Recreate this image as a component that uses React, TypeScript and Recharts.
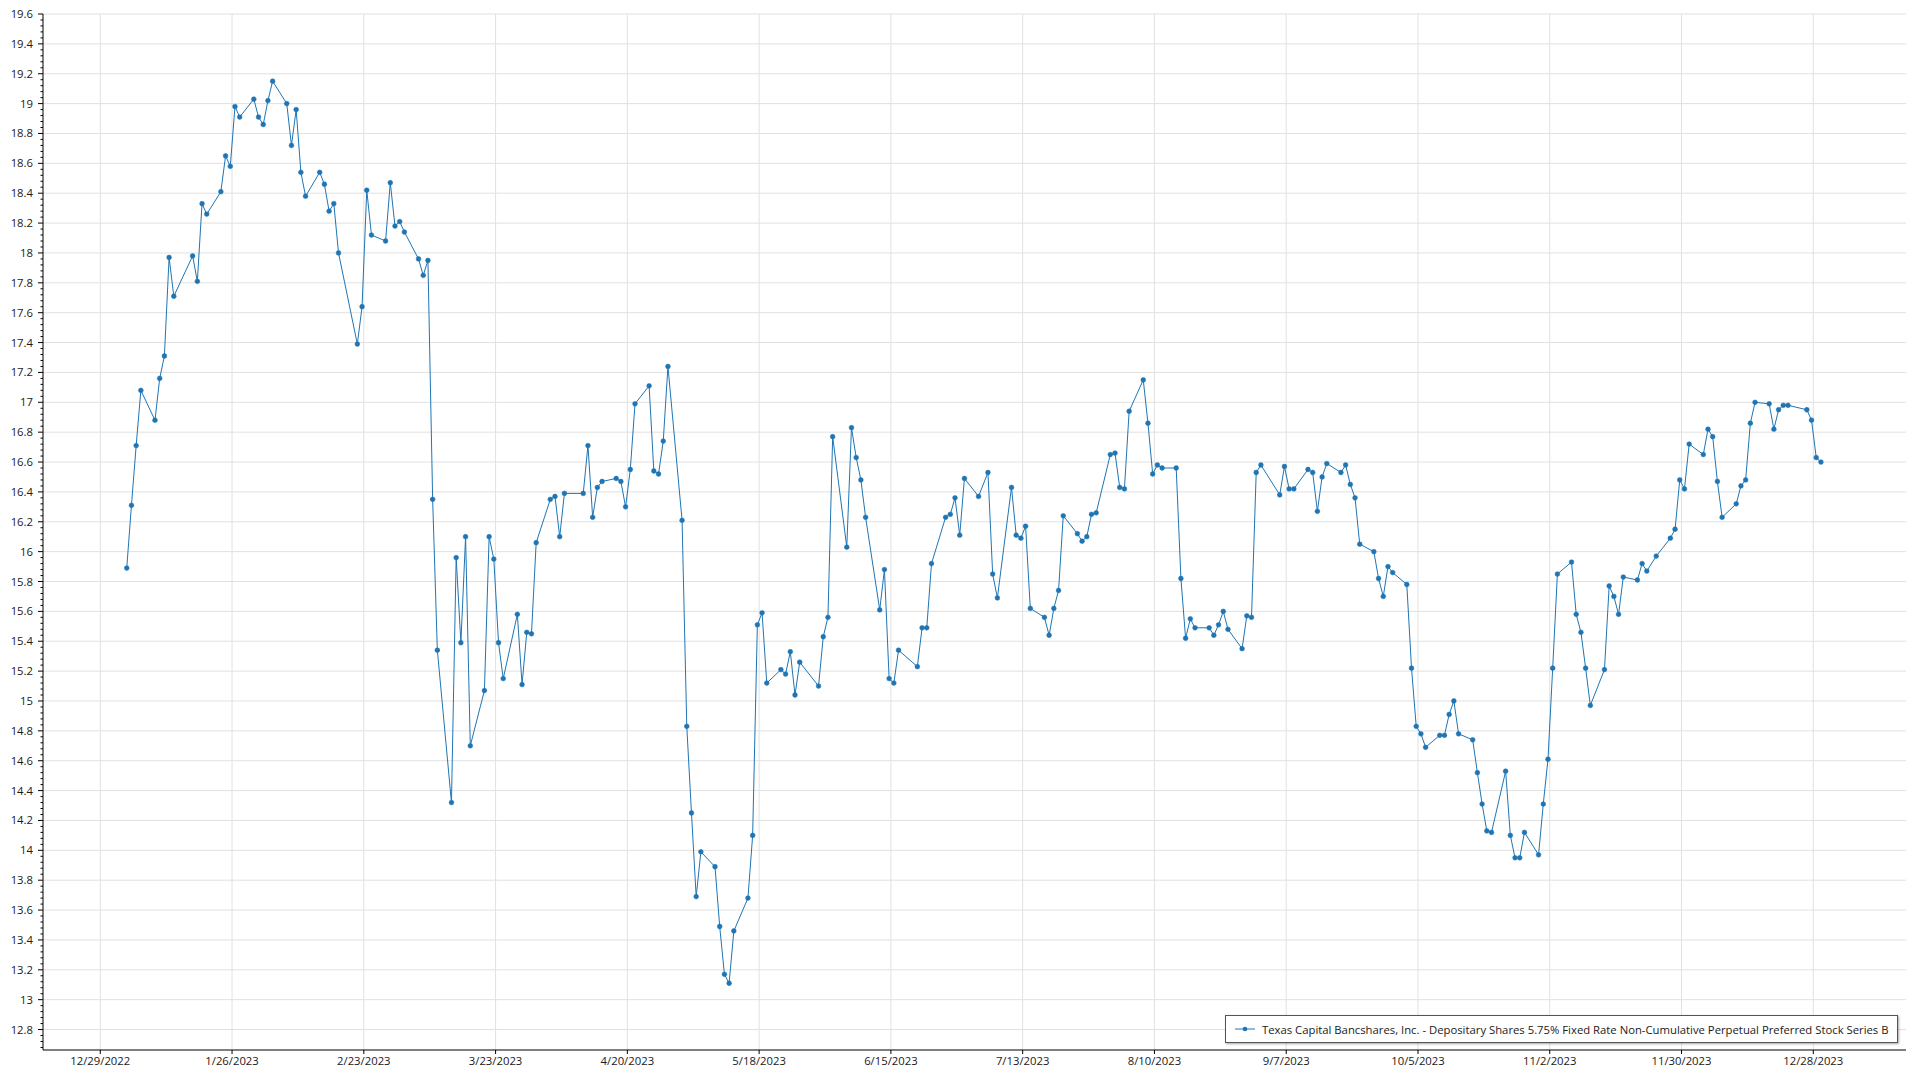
import { LineChart, Line, XAxis, YAxis, CartesianGrid, Legend } from "recharts";

const DAY = 86400000;
const YEAR = 2023;
const FONT = "'Segoe UI', 'Open Sans', 'Noto Sans', sans-serif";
const BLUE = "#1f75b4";

const seriesName =
  "Texas Capital Bancshares, Inc. - Depositary Shares 5.75% Fixed Rate Non-Cumulative Perpetual Preferred Stock Series B";

// trading days of 2023, one row per month (Jan..Dec)
const tradingDaysByMonth: number[][] = [
  [3, 4, 5, 6, 9, 10, 11, 12, 13, 17, 18, 19, 20, 23, 24, 25, 26, 27, 30, 31],
  [1, 2, 3, 6, 7, 8, 9, 10, 13, 14, 15, 16, 17, 21, 22, 23, 24, 27, 28],
  [1, 2, 3, 6, 7, 8, 9, 10, 13, 14, 15, 16, 17, 20, 21, 22, 23, 24, 27, 28, 29, 30, 31],
  [3, 4, 5, 6, 10, 11, 12, 13, 14, 17, 18, 19, 20, 21, 24, 25, 26, 27, 28],
  [1, 2, 3, 4, 5, 8, 9, 10, 11, 12, 15, 16, 17, 18, 19, 22, 23, 24, 25, 26, 30, 31],
  [1, 2, 5, 6, 7, 8, 9, 12, 13, 14, 15, 16, 20, 21, 22, 23, 26, 27, 28, 29, 30],
  [3, 5, 6, 7, 10, 11, 12, 13, 14, 17, 18, 19, 20, 21, 24, 25, 26, 27, 28, 31],
  [1, 2, 3, 4, 7, 8, 9, 10, 11, 14, 15, 16, 17, 18, 21, 22, 23, 24, 25, 28, 29, 30, 31],
  [1, 5, 6, 7, 8, 11, 12, 13, 14, 15, 18, 19, 20, 21, 22, 25, 26, 27, 28, 29],
  [2, 3, 4, 5, 6, 9, 10, 11, 12, 13, 16, 17, 18, 19, 20, 23, 24, 25, 26, 27, 30, 31],
  [1, 2, 3, 6, 7, 8, 9, 10, 13, 14, 15, 16, 17, 20, 21, 22, 24, 27, 28, 29, 30],
  [1, 4, 5, 6, 7, 8, 11, 12, 13, 14, 15, 18, 19, 20, 21, 22, 26, 27, 28, 29],
];

const closesByMonth: number[][] = [
  [15.89, 16.31, 16.71, 17.08, 16.88, 17.16, 17.31, 17.97, 17.71, 17.98, 17.81, 18.33, 18.26, 18.41, 18.65, 18.58, 18.98, 18.91, 19.03, 18.91],
  [18.86, 19.02, 19.15, 19.0, 18.72, 18.96, 18.54, 18.38, 18.54, 18.46, 18.28, 18.33, 18.0, 17.39, 17.64, 18.42, 18.12, 18.08, 18.47],
  [18.18, 18.21, 18.14, 17.96, 17.85, 17.95, 16.35, 15.34, 14.32, 15.96, 15.39, 16.1, 14.7, 15.07, 16.1, 15.95, 15.39, 15.15, 15.58, 15.11, 15.46, 15.45, 16.06],
  [16.35, 16.37, 16.1, 16.39, 16.39, 16.71, 16.23, 16.43, 16.47, 16.49, 16.47, 16.3, 16.55, 16.99, 17.11, 16.54, 16.52, 16.74, 17.24],
  [16.21, 14.83, 14.25, 13.69, 13.99, 13.89, 13.49, 13.17, 13.11, 13.46, 13.68, 14.1, 15.51, 15.59, 15.12, 15.21, 15.18, 15.33, 15.04, 15.26, 15.1, 15.43],
  [15.56, 16.77, 16.03, 16.83, 16.63, 16.48, 16.23, 15.61, 15.88, 15.15, 15.12, 15.34, 15.23, 15.49, 15.49, 15.92, 16.23, 16.25, 16.36, 16.11, 16.49],
  [16.37, 16.53, 15.85, 15.69, 16.43, 16.11, 16.09, 16.17, 15.62, 15.56, 15.44, 15.62, 15.74, 16.24, 16.12, 16.07, 16.1, 16.25, 16.26, 16.65],
  [16.66, 16.43, 16.42, 16.94, 17.15, 16.86, 16.52, 16.58, 16.56, 16.56, 15.82, 15.42, 15.55, 15.49, 15.49, 15.44, 15.51, 15.6, 15.48, 15.35, 15.57, 15.56, 16.53],
  [16.58, 16.38, 16.57, 16.42, 16.42, 16.55, 16.53, 16.27, 16.5, 16.59, 16.53, 16.58, 16.45, 16.36, 16.05, 16.0, 15.82, 15.7, 15.9, 15.86],
  [15.78, 15.22, 14.83, 14.78, 14.69, 14.77, 14.77, 14.91, 15.0, 14.78, 14.74, 14.52, 14.31, 14.13, 14.12, 14.53, 14.1, 13.95, 13.95, 14.12, 13.97, 14.31],
  [14.61, 15.22, 15.85, 15.93, 15.58, 15.46, 15.22, 14.97, 15.21, 15.77, 15.7, 15.58, 15.83, 15.81, 15.92, 15.87, 15.97, 16.09, 16.15, 16.48, 16.42],
  [16.72, 16.65, 16.82, 16.77, 16.47, 16.23, 16.32, 16.44, 16.48, 16.86, 17.0, 16.99, 16.82, 16.95, 16.98, 16.98, 16.95, 16.88, 16.63, 16.6],
];

const xTickLabels = [
  "12/29/2022", "1/26/2023", "2/23/2023", "3/23/2023", "4/20/2023", "5/18/2023", "6/15/2023",
  "7/13/2023", "8/10/2023", "9/7/2023", "10/5/2023", "11/2/2023", "11/30/2023", "12/28/2023",
];

const yTickValues = [
  12.8, 13, 13.2, 13.4, 13.6, 13.8, 14, 14.2, 14.4, 14.6, 14.8, 15, 15.2, 15.4, 15.6, 15.8, 16, 16.2,
  16.4, 16.6, 16.8, 17, 17.2, 17.4, 17.6, 17.8, 18, 18.2, 18.4, 18.6, 18.8, 19, 19.2, 19.4, 19.6,
];

const Y_DOMAIN: [number, number] = [12.663, 19.6];

const parseLabel = (s: string) => {
  const [m, d, y] = s.split("/").map(Number);
  return Date.UTC(y, m - 1, d);
};

// closing prints are stamped mid-afternoon, so they sit a little right of the date gridline
const data = tradingDaysByMonth.flatMap((days, mi) =>
  days.map((d, i) => ({ t: Date.UTC(YEAR, mi, d, 15), close: closesByMonth[mi][i] }))
);

const xTicks = xTickLabels.map(parseLabel);
const xDomain: [number, number] = [xTicks[0] - 12.17 * DAY, xTicks[0] + 383.7 * DAY];

// four minor ticks between every labelled value
const round2 = (v: number) => Math.round(v * 100) / 100;
const yAllTicks = yTickValues
  .flatMap((v) => [v, v - 0.04, v - 0.08, v - 0.12, v - 0.16].map(round2))
  .filter((v) => v >= Y_DOMAIN[0])
  .sort((a, b) => a - b);

const isMajor = (v: number) => yTickValues.some((t) => Math.abs(t - v) < 1e-6);

const fmtDate = (t: number) => {
  const d = new Date(t);
  return `${d.getUTCMonth() + 1}/${d.getUTCDate()}/${d.getUTCFullYear()}`;
};

function YTick(props: any) {
  const { x, y, payload } = props;
  const major = isMajor(payload.value);
  return (
    <g>
      <line x1={x - (major ? 5 : 2.5)} x2={x} y1={y} y2={y} stroke="#000" strokeWidth={1} />
      {major && (
        <text x={x - 10} y={y} dy={4} textAnchor="end" fontSize={11.3} fill="#1a1a1a" fontFamily={FONT}>
          {String(Math.round(payload.value * 10) / 10)}
        </text>
      )}
    </g>
  );
}

function LegendBox() {
  return (
    <div
      style={{
        boxSizing: "border-box",
        width: 673,
        height: 28,
        border: "1px solid #555",
        boxShadow: "1px 1px 2px rgba(0,0,0,0.35)",
        background: "#fff",
        display: "flex",
        alignItems: "center",
        fontFamily: FONT,
        fontSize: 11.3,
        color: "#1a1a1a",
        whiteSpace: "nowrap",
        overflow: "hidden",
      }}
    >
      <svg width={20} height={6} style={{ marginLeft: 9, marginRight: 7, flexShrink: 0 }}>
        <line x1={0} x2={20} y1={3} y2={3} stroke={BLUE} strokeWidth={1} />
        <circle cx={10} cy={3} r={2.3} fill={BLUE} />
      </svg>
      <span>{seriesName}</span>
    </div>
  );
}

export default function App() {
  return (
    <div style={{ position: "absolute", left: 0, top: 0, width: 1920, height: 1080, background: "#fff" }}>
      <LineChart width={1920} height={1080} data={data} margin={{ top: 14, right: 14, bottom: 0, left: 0 }}>
        <CartesianGrid
          stroke="#e1e1e1"
          horizontalValues={yTickValues}
          verticalValues={xTicks}
        />
        <XAxis
          dataKey="t"
          type="number"
          scale="linear"
          domain={xDomain}
          ticks={xTicks}
          interval={0}
          tickFormatter={fmtDate}
          height={30}
          tickSize={4}
          tickMargin={3}
          axisLine={{ stroke: "#000" }}
          tickLine={{ stroke: "#000" }}
          tick={{ fill: "#1a1a1a", fontSize: 11.3, fontFamily: FONT }}
          allowDataOverflow
        />
        <XAxis xAxisId="top" orientation="top" type="number" domain={[0, 1]} height={0} tick={false} axisLine={{ stroke: "#000" }} />
        <YAxis
          type="number"
          domain={Y_DOMAIN}
          ticks={yAllTicks}
          interval={0}
          width={43}
          tickSize={0}
          tickMargin={0}
          axisLine={{ stroke: "#000" }}
          tickLine={false}
          tick={(p: any) => <YTick {...p} />}
          allowDataOverflow
        />
        <YAxis yAxisId="right" orientation="right" type="number" domain={[0, 1]} width={0} tick={false} axisLine={{ stroke: "#000" }} />
        <Line
          type="linear"
          dataKey="close"
          name={seriesName}
          stroke={BLUE}
          strokeWidth={1}
          dot={{ r: 2.4, fill: BLUE, stroke: BLUE, strokeWidth: 0.5 }}
          isAnimationActive={false}
        />
        <Legend
          layout="horizontal"
          verticalAlign="middle"
          align="center"
          width={673}
          wrapperStyle={{ left: 1225, top: 1015, width: 673, height: 28 }}
          content={() => <LegendBox />}
        />
      </LineChart>
    </div>
  );
}
